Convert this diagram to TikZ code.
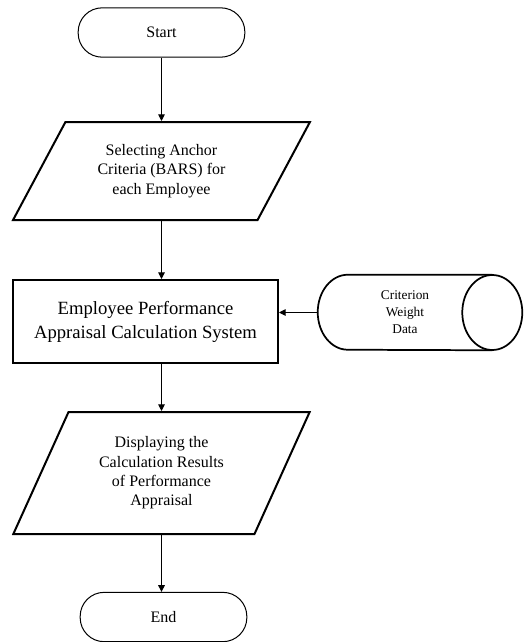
\documentclass[tikz,border=0pt]{standalone}
\usepackage{fontspec}
\setmainfont{Liberation Serif}
\usetikzlibrary{shapes.geometric,arrows.meta}

\begin{document}
\begin{tikzpicture}[x=0.75pt,y=-0.75pt,
    terminal/.style={draw,line width=0.75pt,rounded corners=18pt,minimum width=125pt,minimum height=37pt,font=\fontsize{12}{14.5}\selectfont},
    io/.style={draw,line width=1.5pt,trapezium,trapezium stretches,minimum width=222.75pt,align=center,font=\fontsize{12}{14.5}\selectfont},
    process/.style={draw,line width=1.5pt,minimum width=198.75pt,minimum height=62.25pt,align=center,font=\fontsize{14}{18}\selectfont},
    store/.style={minimum width=130.5pt,minimum height=56.25pt,align=center,font=\fontsize{10}{12.75}\selectfont},
    storeline/.style={line width=1.3pt},
    flow/.style={-{Triangle[length=5pt,width=5pt]},line width=0.75pt}]
    \useasboundingbox (0,0) rectangle (530,642);

    \node[terminal] (start) at (161.5,32.5) {Start};
    \node[io,minimum height=73.5pt,trapezium left angle=59,trapezium right angle=121] (select) at (161.5,171)
        {Selecting Anchor\\Criteria (BARS) for\\each Employee};
    \node[process] (calc) at (145.5,321.5) {Employee Performance\\Appraisal Calculation System};
    \node[store] (weight) at (405,312.5) {Criterion\\Weight\\Data};
    \node[io,minimum height=91.5pt,trapezium left angle=64,trapezium right angle=116] (result) at (161.5,473)
        {Displaying the\\Calculation Results\\of Performance\\Appraisal};
    \node[terminal] (stop) at (163.5,617) {End};

    % stored data drum
    \draw[storeline] (weight.north east) -- ([xshift=22.5pt]weight.north west)
        arc[start angle=90,end angle=270,x radius=22.5pt,y radius=28.125pt] -- (weight.south east);
    \draw[storeline] (weight.east) ellipse[x radius=22.5pt,y radius=28.125pt];

    \draw[flow] (start.south) -- (start.south |- select.north);
    \draw[flow] (select.south) -- (select.south |- calc.north);
    \draw[flow] (weight.west) -- (weight.west -| calc.east);
    \draw[flow] (result.north |- calc.south) -- (result.north);
    \draw[flow] (result.south) -- (result.south |- stop.north);
\end{tikzpicture}
\end{document}
